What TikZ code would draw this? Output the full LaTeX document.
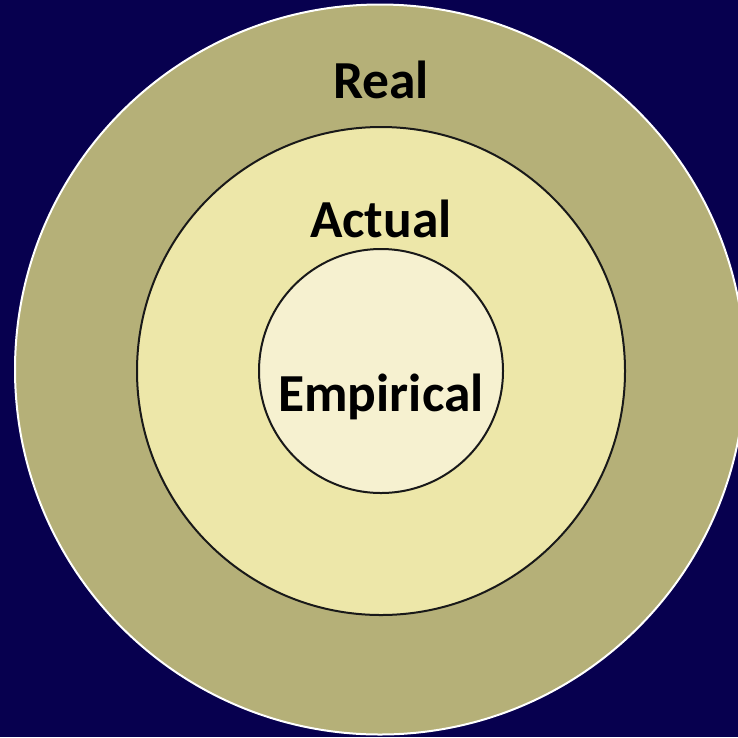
\documentclass[tikz,border=0pt]{standalone}
\usepackage{fontspec}
\setmainfont{Carlito}
\definecolor{bgnavy}{HTML}{07004F}
\definecolor{realfill}{HTML}{B5B078}
\definecolor{actualfill}{HTML}{EDE7A9}
\definecolor{empfill}{HTML}{F6F1D0}
\tikzset{
  ring/.style={circle, draw=black!90, line width=2pt, inner sep=0pt},
  lbl/.style={font=\bfseries\fontsize{53.5}{60}\selectfont, text=black, anchor=base, inner sep=0pt}
}
\begin{document}
\begin{tikzpicture}[x=1pt,y=-1pt]
\fill[bgnavy] (0,0) rectangle (738,737);
\useasboundingbox (0,0) rectangle (738,737);
\node[circle, fill=realfill, draw=white, line width=2pt, minimum size=730pt, inner sep=0pt] (real) at (380,369.5) {};
\node[ring, fill=actualfill, minimum size=488pt] (actual) at (381,371) {};
\node[ring, fill=empfill, minimum size=244pt] (emp) at (381,371) {};
\node[lbl] (treal) at (381,98) {Real};
\node[lbl] (tactual) at (381,237) {Actual};
\node[lbl] (temp) at (381,411) {Empirical};
\end{tikzpicture}
\end{document}
